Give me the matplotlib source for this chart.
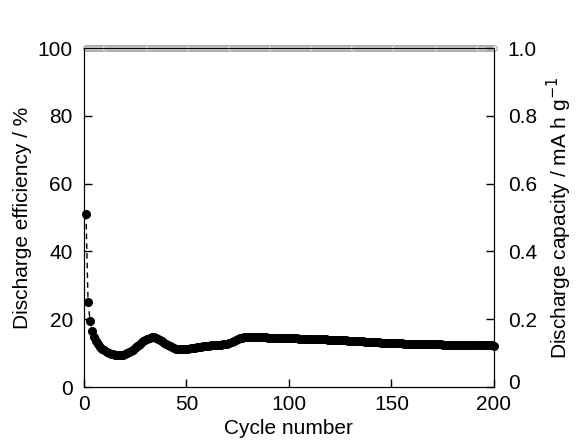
import numpy as np
import matplotlib.pyplot as plt
from matplotlib.transforms import ScaledTranslation

plt.rcParams['font.family'] = ['Liberation Sans', 'DejaVu Sans']

# cycle numbers
cycles = np.arange(1, 201)

# discharge capacity / mA h g-1, one value per cycle
capacity = [
    0.510, 0.250, 0.195, 0.165, 0.148, 0.135, 0.126, 0.119, 0.113, 0.108,
    0.104, 0.101, 0.098, 0.096, 0.095, 0.094, 0.094, 0.094, 0.095, 0.097,
    0.099, 0.102, 0.106, 0.110, 0.115, 0.120, 0.125, 0.130, 0.135, 0.139,
    0.143, 0.146, 0.147, 0.147, 0.146, 0.143, 0.139, 0.135, 0.131, 0.127,
    0.123, 0.120, 0.117, 0.115, 0.113, 0.112, 0.111, 0.111, 0.111, 0.112,
    0.113, 0.114, 0.115, 0.116, 0.117, 0.118, 0.119, 0.120, 0.121, 0.122,
    0.122, 0.123, 0.123, 0.124, 0.124, 0.125, 0.125, 0.126, 0.127, 0.128,
    0.130, 0.133, 0.136, 0.139, 0.142, 0.144, 0.146, 0.147, 0.148, 0.148,
    0.148, 0.148, 0.148, 0.148, 0.147, 0.147, 0.147, 0.147, 0.147, 0.146,
    0.146, 0.146, 0.146, 0.146, 0.145, 0.145, 0.145, 0.145, 0.145, 0.144,
    0.144, 0.144, 0.144, 0.144, 0.143, 0.143, 0.143, 0.143, 0.143, 0.142,
    0.142, 0.142, 0.142, 0.142, 0.141, 0.141, 0.141, 0.141, 0.140, 0.140,
    0.140, 0.140, 0.139, 0.139, 0.139, 0.138, 0.138, 0.138, 0.137, 0.137,
    0.137, 0.136, 0.136, 0.135, 0.135, 0.135, 0.134, 0.134, 0.133, 0.133,
    0.133, 0.132, 0.132, 0.132, 0.131, 0.131, 0.131, 0.130, 0.130, 0.130,
    0.130, 0.129, 0.129, 0.129, 0.129, 0.128, 0.128, 0.128, 0.128, 0.128,
    0.127, 0.127, 0.127, 0.127, 0.127, 0.127, 0.126, 0.126, 0.126, 0.126,
    0.126, 0.126, 0.126, 0.126, 0.125, 0.125, 0.125, 0.125, 0.125, 0.125,
    0.125, 0.125, 0.125, 0.125, 0.124, 0.124, 0.124, 0.124, 0.124, 0.124,
    0.124, 0.124, 0.124, 0.123, 0.123, 0.123, 0.123, 0.123, 0.123, 0.122,
]

# discharge efficiency / %, flat at 100 for every cycle
efficiency = [100.0] * 200

fig = plt.figure(figsize=(5.79, 4.42), dpi=100)
ax = fig.add_axes([0.145, 0.1244, 0.708, 0.767])
ax2 = ax.twinx()

ax.plot(cycles, efficiency, 'o', mfc='white', mec='#9a9a9a', ms=4.0,
        mew=0.7, clip_on=False, zorder=3)
ax2.plot(cycles, capacity, 'o--', color='black', ms=5.5, lw=1,
         dashes=(4, 3), clip_on=False)

ax.set_xlim(0, 200)
ax.set_ylim(0, 100)
ax2.set_ylim(0, 1.0)
ax.set_xticks([0, 50, 100, 150, 200])
ax.set_yticks([0, 20, 40, 60, 80, 100])
ax2.set_yticks([0, 0.2, 0.4, 0.6, 0.8, 1.0])
ax2.set_yticklabels(['0', '0.2', '0.4', '0.6', '0.8', '1.0'])

ax.tick_params(direction='in', labelsize=15, length=6, width=1)
ax.tick_params(axis='y', pad=8)
ax.tick_params(axis='x', pad=6)
ax2.tick_params(direction='in', labelsize=15, length=6, width=1, pad=10)

# the right-hand "0" sits a little higher, next to the "200"
lab0 = ax2.get_yticklabels()[0]
lab0.set_transform(lab0.get_transform() + ScaledTranslation(0, 4 / 72, fig.dpi_scale_trans))

ax.set_xlabel('Cycle number', fontsize=15, labelpad=3)
ax.set_ylabel('Discharge efficiency / %', fontsize=15, labelpad=4)
ax2.set_ylabel('Discharge capacity / mA h g$^{-1}$', fontsize=15, labelpad=6)

fig.savefig('out.png', dpi=100)
